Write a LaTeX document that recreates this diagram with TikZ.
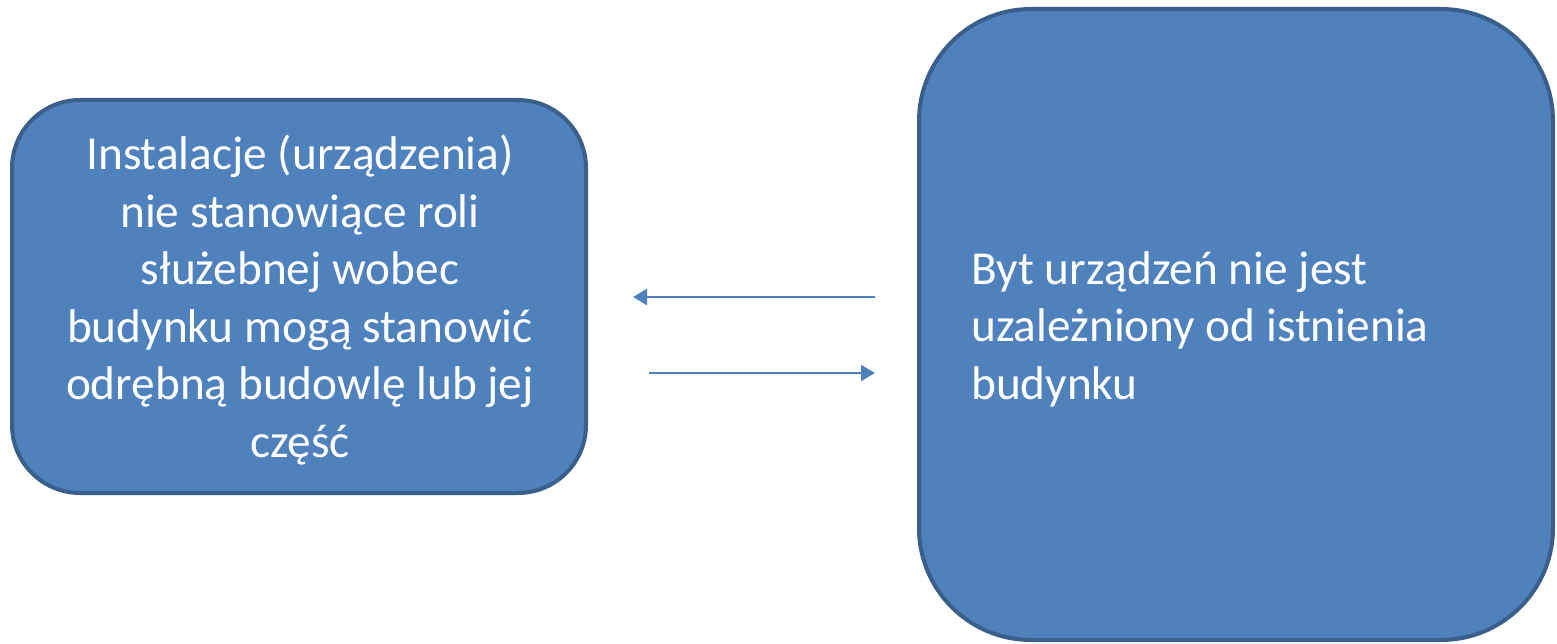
\documentclass[tikz,border=0pt]{standalone}
\usepackage{fontspec}
\setmainfont{Carlito}
\usetikzlibrary{arrows.meta}
\definecolor{boxfill}{HTML}{4F81BD}
\definecolor{boxline}{HTML}{3A5F8B}
\tikzset{
  roundbox/.style={draw=boxline, line width=4pt, fill=boxfill},
  boxtext/.style={text=white, font=\fontsize{47.3}{57.5}\selectfont, inner sep=0pt},
  link/.style={draw=boxfill, line width=2pt, -{Triangle[length=14pt,width=16pt]}}
}
\begin{document}
\begin{tikzpicture}[x=1pt,y=-1pt]
\useasboundingbox (0,0) rectangle (1557,644);
\draw[roundbox, rounded corners=68pt] (12,100) rectangle (586,493);
\draw[roundbox, rounded corners=112pt] (919,9) rectangle (1553,640);
\node[boxtext, align=center] (lt) at (300,300) {Instalacje (urządzenia)\\nie stanowiące roli\\służebnej wobec\\budynku mogą stanowić\\odrębną budowlę lub jej\\część};
\node[boxtext, align=left, anchor=west] (rt) at (971,329) {Byt urządzeń nie jest\\uzależniony od istnienia\\budynku};
\coordinate (a1s) at (875,297);
\coordinate (a1e) at (633,297);
\coordinate (a2s) at (649,373);
\coordinate (a2e) at (875,373);
\draw[link] (a1s) -- (a1e);
\draw[link] (a2s) -- (a2e);
\end{tikzpicture}
\end{document}
